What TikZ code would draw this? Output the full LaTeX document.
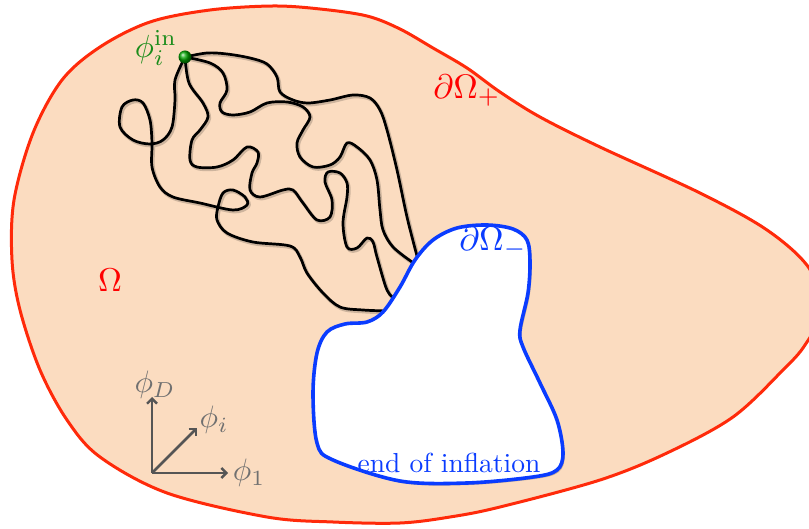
\documentclass[tikz,border=0pt]{standalone}
\usetikzlibrary{arrows.meta}
\definecolor{peach}{HTML}{FBDCC0}
\definecolor{redb}{HTML}{FF2A0A}
\definecolor{bluel}{HTML}{0A3CFF}
\definecolor{greent}{HTML}{1A8C1A}
\definecolor{axg}{HTML}{555555}
\definecolor{axt}{HTML}{707070}
\newcommand{\sbx}[2]{\scalebox{#1}{#2}}
\begin{document}
\begin{tikzpicture}[x=1pt,y=-1pt,
  wig/.style={draw=black, line width=2.7pt, line cap=round, line join=round},
  shad/.style={draw=black, opacity=0.18, line width=3.6pt, line cap=round, line join=round, transform canvas={shift={(1.3pt,-1.6pt)}}},
  sm/.style={smooth, tension=0.55},
  ax/.style={draw=axg, line width=2.6pt, -{Straight Barb[length=5pt,width=10pt,line width=2.4pt]}},
  axlab/.style={text=axt, inner sep=0pt},
]
\useasboundingbox (0,0) rectangle (809,529);
\clip (0,0) rectangle (809,529);

% outer region
\path[fill=peach, draw=redb, line width=3pt]
  plot[smooth cycle, tension=0.55] coordinates {
  (273,6) (320,9) (367,16) (400,29) (433,48) (467,68) (500,92) (540,117) (600,147)
  (700,193) (767,230) (809,268)
  (822,310) (805,345) (783,370) (733,417) (667,453) (600,480) (500,507) (450,517) (400,523)
  (333,522) (267,517) (167,493) (100,457) (67,420) (40,370) (20,310) (12,260) (14,200)
  (33,133) (62,80) (100,47) (150,22) (210,10)};

% wandering trajectories (shadow, then line)
\foreach \st in {shad,wig}{
  \draw[\st] plot[sm] coordinates {(185,57) (207,53) (227,54) (250,58) (267,64)
    (277,77) (280,92) (293,100) (308,103) (330,100) (353,95) (370,98) (380,110)
    (387,130) (397,170) (407,217) (417,256)};
  \draw[\st] plot[sm] coordinates {(185,57) (210,63) (223,73) (227,90) (220,103)
    (222,112) (233,115) (250,112) (267,103) (287,102) (303,107) (310,117) (303,130)
    (297,143) (300,157) (313,167) (330,165) (340,157) (347,143) (357,147) (370,160)
    (377,180) (380,210) (383,230) (393,247) (412,262)};
  \draw[\st] plot[sm] coordinates {(185,57) (189,83) (203,103) (208,117) (200,130)
    (192,140) (190,160) (197,167) (217,167) (233,160) (247,147) (258,152) (257,163)
    (252,173) (250,190) (260,197) (283,190) (293,190) (303,203) (317,220) (330,217)
    (332,200) (325,182) (328,172) (340,173) (347,183) (347,197) (343,223) (347,247)
    (357,248) (367,238) (373,242) (377,257) (387,290) (396,300)};
  \draw[\st] plot[sm] coordinates {(185,57) (175,80) (175,100) (172,127) (163,140)
    (150,144) (133,140) (120,127) (122,107) (133,100) (143,103) (150,120) (152,143)
    (152,167) (160,187) (173,197) (200,203) (233,210) (247,205) (245,197) (233,190)
    (223,193) (218,207) (217,220) (227,233) (253,242) (290,246) (300,257) (307,273)
    (323,293) (340,307) (363,310) (388,311)};
}

% end-of-inflation region
\path[fill=black, opacity=0.22, transform canvas={shift={(1.8pt,-2pt)}}]
  plot[smooth cycle, tension=0.55] coordinates {
  (487,225) (513,229) (527,240) (530,262) (528,293) (520,330) (523,347) (540,383)
  (557,420) (563,453) (557,470) (533,477) (467,483) (400,481) (333,460) (317,443)
  (313,393) (317,353) (327,332) (345,324) (367,322) (383,312) (400,287) (415,260)
  (433,240) (457,228)};
\path[fill=white, draw=bluel, line width=3.6pt, line join=round]
  plot[smooth cycle, tension=0.55] coordinates {
  (487,225) (513,229) (527,240) (530,262) (528,293) (520,330) (523,347) (540,383)
  (557,420) (563,453) (557,470) (533,477) (467,483) (400,481) (333,460) (317,443)
  (313,393) (317,353) (327,332) (345,324) (367,322) (383,312) (400,287) (415,260)
  (433,240) (457,228)};

% initial point
\node[circle, inner sep=0pt, minimum size=13pt, shading=ball, ball color=green!65!black] (dot) at (185,57) {};
\node[text=greent, inner sep=0pt] (phiin) at (156,48) {\sbx{3.2}{$\phi_i^{\mathrm{in}}$}};

% labels
\node[text=red, inner sep=0pt] (omega) at (110,280) {\sbx{3.3}{$\Omega$}};
\node[text=red, inner sep=0pt] (dplus) at (467,91) {\sbx{3.4}{$\partial\Omega_+$}};
\node[text=bluel, inner sep=0pt] (dminus) at (493,243) {\sbx{3.4}{$\partial\Omega_-$}};
\node[text=bluel, inner sep=0pt] (eoi) at (449,463) {\sbx{2.75}{end of inflation}};

% axes
\coordinate (o) at (152,473);
\coordinate (tD) at (152,397);
\coordinate (ti) at (197,428);
\coordinate (t1) at (228,473);
\draw[ax] (o) -- (tD);
\draw[ax] (o) -- (ti);
\draw[ax] (o) -- (t1);
\node[axlab] (lD) at (155,385) {\sbx{3.1}{$\phi_D$}};
\node[axlab] (li) at (214,420) {\sbx{3.1}{$\phi_i$}};
\node[axlab] (l1) at (249,473) {\sbx{3.1}{$\phi_1$}};
\end{tikzpicture}
\end{document}
